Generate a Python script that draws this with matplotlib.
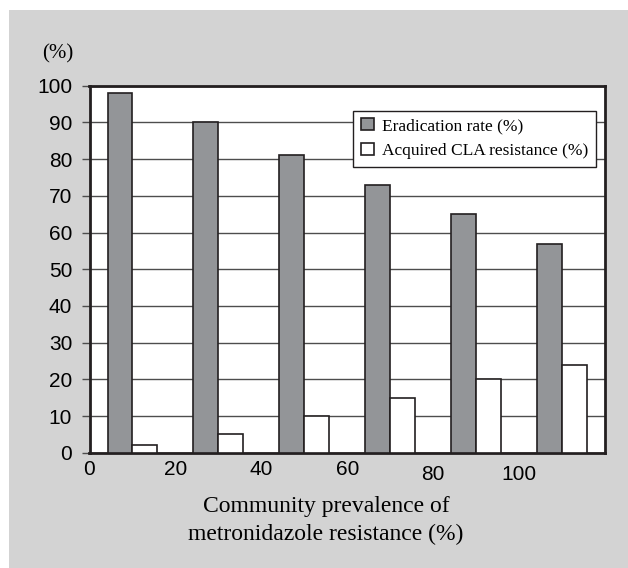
import numpy as np
import matplotlib
matplotlib.use('Agg')
import matplotlib.pyplot as plt
from matplotlib.patches import Rectangle

# data
prevalence_labels = ['0', '20', '40', '60', '80', '100']
eradication_rate = [98, 90, 81, 73, 65, 57]
acquired_cla = [2, 5, 10, 15, 20, 24]
y_ticks = list(range(0, 101, 10))

SERIF = 'Liberation Serif'
SANS = 'Liberation Sans'
BAR_GREY = '#939598'
EDGE = '#231f20'

fig = plt.figure(figsize=(6.28, 5.68), dpi=100, facecolor='white')
# grey panel behind the chart
fig.patches.append(Rectangle((8.5 / 628, 0), 619 / 628, 558 / 568,
                             transform=fig.transFigure, facecolor='#d3d3d3',
                             edgecolor='none', zorder=-10))

ax = fig.add_axes([89.5 / 628, 1 - 452.7 / 568, 515.5 / 628, 367 / 568])
ax.set_facecolor('white')

n = len(eradication_rate)
x = np.arange(n)
w = 0.29
ax.bar(x - w / 2, eradication_rate, width=w, color=BAR_GREY, edgecolor=EDGE,
       linewidth=1.2, zorder=3, label='Eradication rate (%)')
ax.bar(x + w / 2, acquired_cla, width=w, color='white', edgecolor=EDGE,
       linewidth=1.2, zorder=3, label='Acquired CLA resistance (%)')

ax.set_xlim(-0.5, n - 0.5)
ax.set_ylim(0, 100)
ax.set_yticks(y_ticks)
ax.set_yticklabels([str(v) for v in y_ticks], fontfamily=SANS, fontsize=15)
ax.yaxis.grid(True, color='#4d4d4d', linewidth=1.0, zorder=1)
ax.set_axisbelow(True)
ax.tick_params(axis='y', length=6, width=1.0, color='#4d4d4d', pad=6.5)

ax.set_xticks(np.arange(n) - 0.5)
ax.set_xticklabels(prevalence_labels, fontfamily=SANS, fontsize=15)
ax.tick_params(axis='x', length=0, pad=5)
for t in ax.xaxis.get_major_ticks()[4:]:
    t.set_pad(8.5)

for s in ax.spines.values():
    s.set_color(EDGE)
    s.set_linewidth(2)

ax.set_xlabel('Community prevalence of\nmetronidazole resistance (%)',
              fontfamily=SERIF, fontsize=17, linespacing=1.45)
ax.xaxis.set_label_coords((326 - 89.5) / 515.5, -0.118)
fig.text(42 / 628, 1 - 54 / 568, '(%)', fontfamily=SERIF, fontsize=15,
         va='center', ha='left')

leg = ax.legend(loc='upper right', bbox_to_anchor=(0.9825, 0.931),
                prop={'family': SERIF, 'size': 12.5}, frameon=True, fancybox=False,
                edgecolor=EDGE, framealpha=1, borderaxespad=0,
                handlelength=0.75, handleheight=0.7, handletextpad=0.5,
                labelspacing=0.5, borderpad=0.42)
leg.get_frame().set_linewidth(1.0)

fig.savefig('out.png', dpi=100, facecolor=fig.get_facecolor())
